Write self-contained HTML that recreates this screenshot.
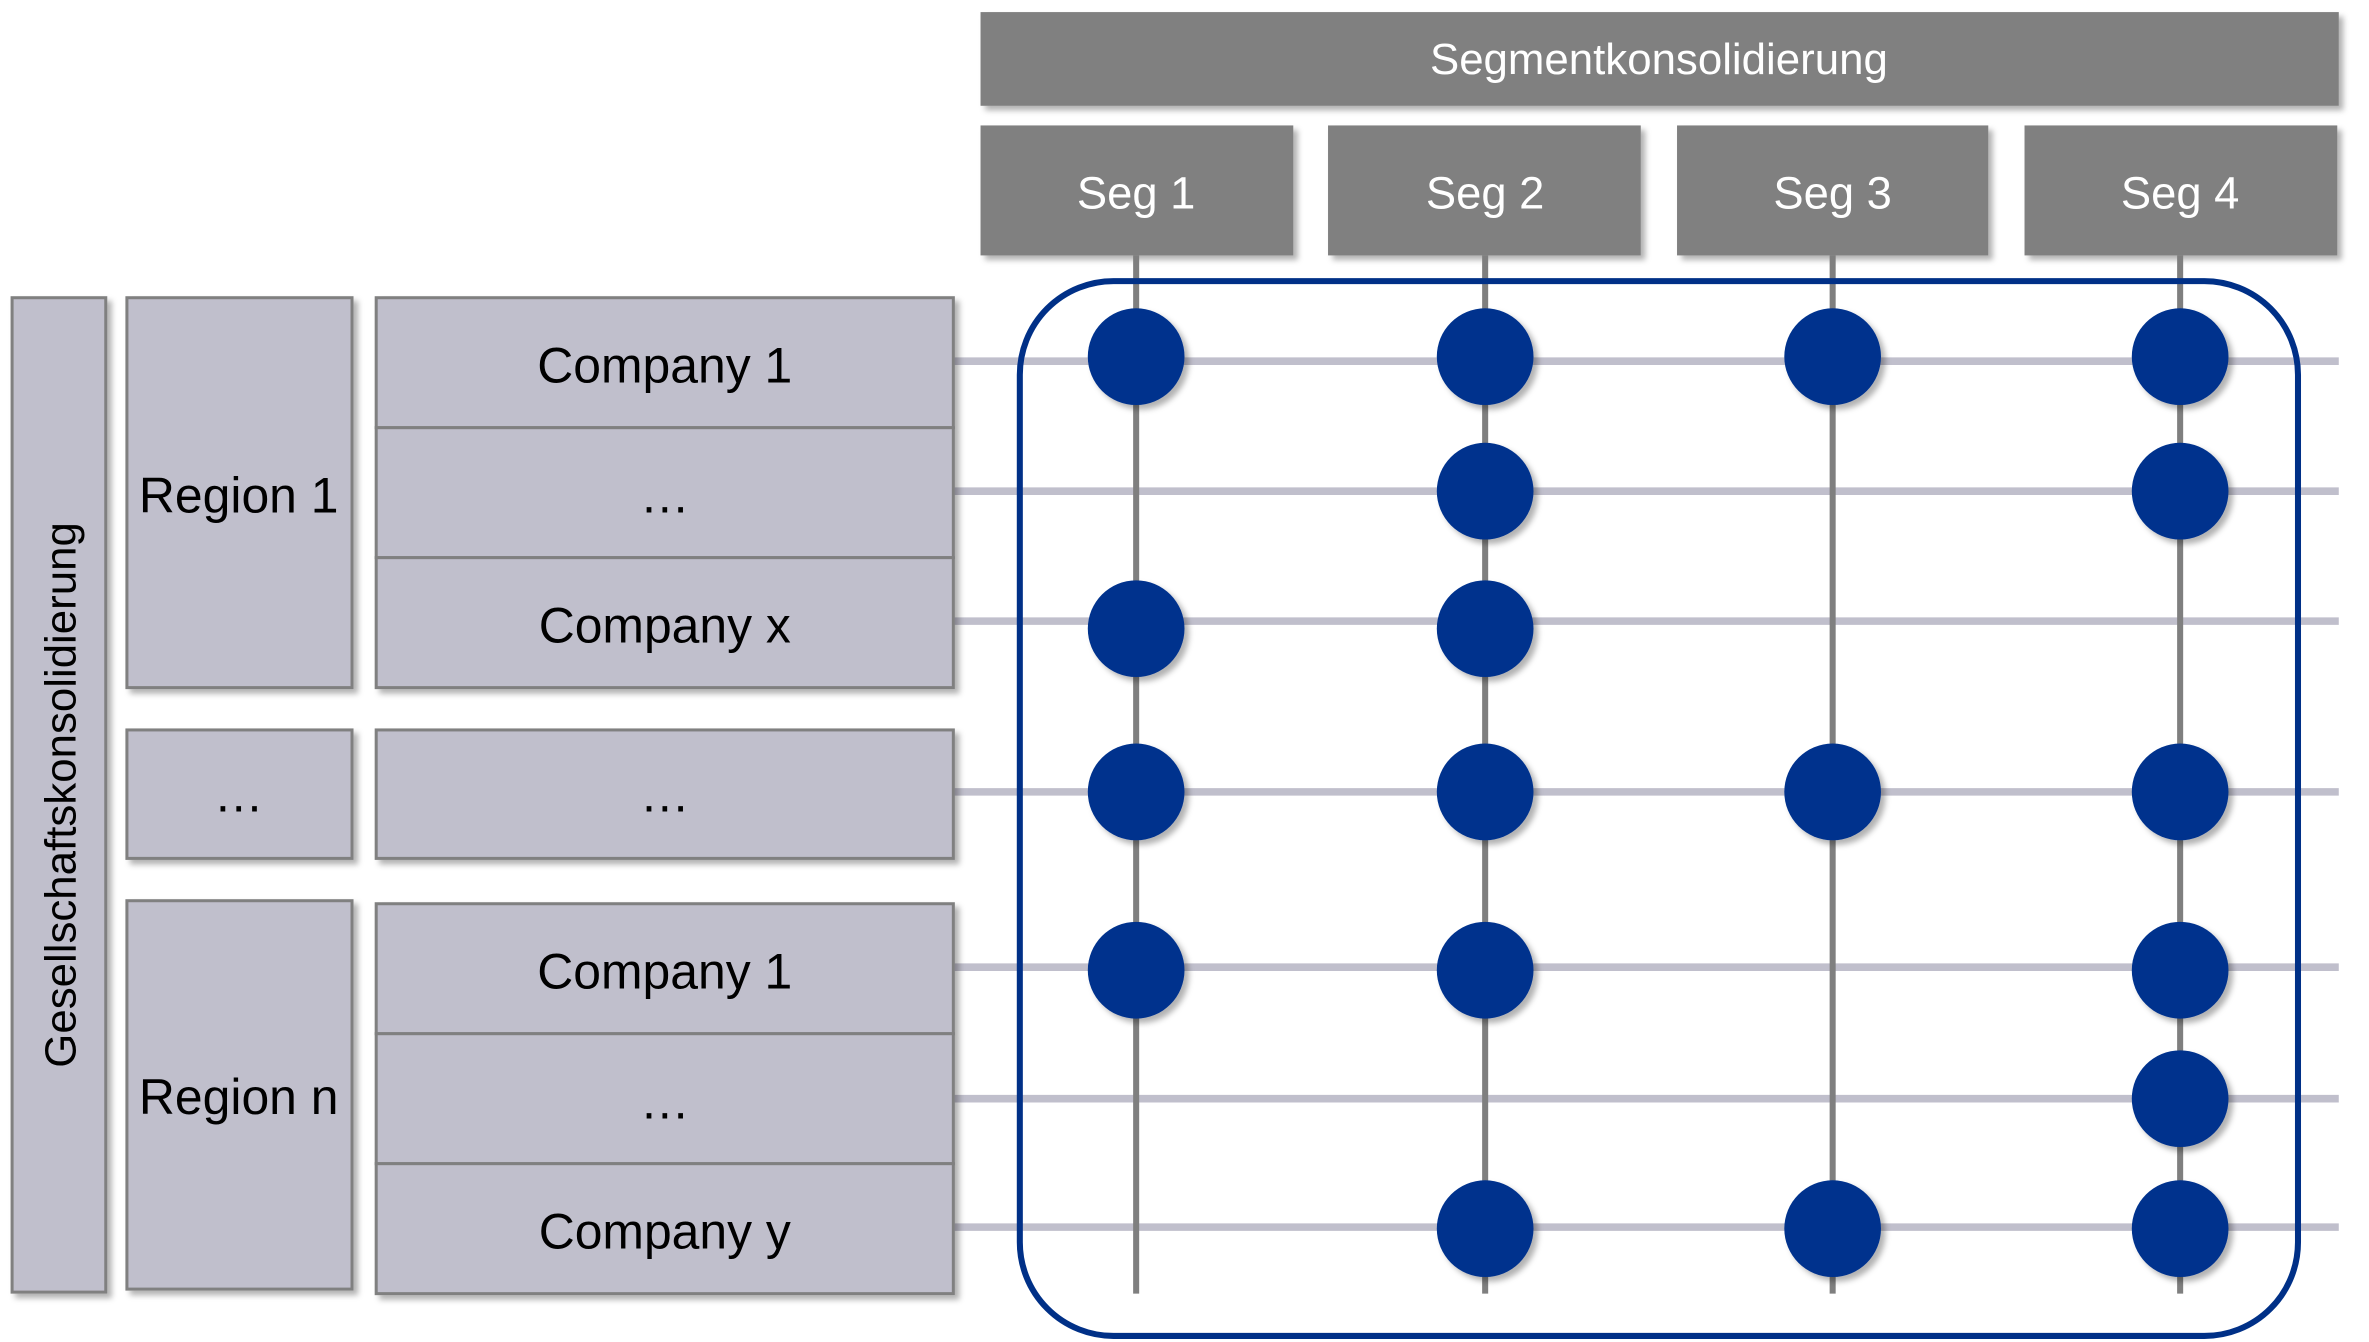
<!DOCTYPE html>
<html><head><meta charset="utf-8"><style>
html,body{margin:0;padding:0;background:#fff;}
svg{display:block;}
text{font-family:"Liberation Sans",sans-serif;}
</style></head><body>
<svg width="2369" height="1342" viewBox="0 0 1568 888" preserveAspectRatio="none" xmlns="http://www.w3.org/2000/svg">
<defs>
<filter id="sh" x="-20%" y="-20%" width="150%" height="150%">
<feDropShadow dx="3" dy="3" stdDeviation="2" flood-color="#000" flood-opacity="0.3"/>
</filter>
</defs>
<g filter="url(#sh)">
<rect x="649" y="8" width="899" height="62" fill="#808080"/>
<rect x="649" y="83" width="207" height="86" fill="#808080"/>
<rect x="879" y="83" width="207" height="86" fill="#808080"/>
<rect x="1110" y="83" width="206" height="86" fill="#808080"/>
<rect x="1340" y="83" width="207" height="86" fill="#808080"/>
</g>
<g fill="#fff" text-anchor="middle">
<text x="1098" y="49" font-size="29">Segmentkonsolidierung</text>
<text x="752" y="138" font-size="30">Seg 1</text>
<text x="983" y="138" font-size="30">Seg 2</text>
<text x="1213" y="138" font-size="30">Seg 3</text>
<text x="1443" y="138" font-size="30">Seg 4</text>
</g>
<g stroke="#c0bfcc" stroke-width="5">
<line x1="631" y1="239" x2="1548" y2="239"/>
<line x1="631" y1="325" x2="1548" y2="325"/>
<line x1="631" y1="411" x2="1548" y2="411"/>
<line x1="631" y1="524" x2="1548" y2="524"/>
<line x1="631" y1="640" x2="1548" y2="640"/>
<line x1="631" y1="727" x2="1548" y2="727"/>
<line x1="631" y1="812" x2="1548" y2="812"/>
</g>
<g stroke="#7f7f7f" stroke-width="4">
<line x1="752" y1="169" x2="752" y2="856"/>
<line x1="983" y1="169" x2="983" y2="856"/>
<line x1="1213" y1="169" x2="1213" y2="856"/>
<line x1="1443" y1="169" x2="1443" y2="856"/>
</g>
<rect x="675" y="186" width="846" height="698" rx="62" fill="none" stroke="#003087" stroke-width="4"/>
<g fill="#00338d" filter="url(#sh)">
<circle cx="752" cy="236" r="32"/><circle cx="983" cy="236" r="32"/><circle cx="1213" cy="236" r="32"/><circle cx="1443" cy="236" r="32"/>
<circle cx="983" cy="325" r="32"/><circle cx="1443" cy="325" r="32"/>
<circle cx="752" cy="416" r="32"/><circle cx="983" cy="416" r="32"/>
<circle cx="752" cy="524" r="32"/><circle cx="983" cy="524" r="32"/><circle cx="1213" cy="524" r="32"/><circle cx="1443" cy="524" r="32"/>
<circle cx="752" cy="642" r="32"/><circle cx="983" cy="642" r="32"/><circle cx="1443" cy="642" r="32"/>
<circle cx="1443" cy="727" r="32"/>
<circle cx="983" cy="813" r="32"/><circle cx="1213" cy="813" r="32"/><circle cx="1443" cy="813" r="32"/>
</g>
<g fill="#c0bfcc" stroke="#808080" stroke-width="2" filter="url(#sh)">
<rect x="8" y="197" width="62" height="658"/>
<rect x="84" y="197" width="149" height="258"/>
<rect x="84" y="483" width="149" height="85"/>
<rect x="84" y="596" width="149" height="257"/>
<rect x="249" y="197" width="382" height="86"/>
<rect x="249" y="283" width="382" height="86"/>
<rect x="249" y="369" width="382" height="86"/>
<rect x="249" y="483" width="382" height="85"/>
<rect x="249" y="598" width="382" height="86"/>
<rect x="249" y="684" width="382" height="86"/>
<rect x="249" y="770" width="382" height="86"/>
</g>
<g fill="#000" text-anchor="middle" font-size="33">
<text x="440" y="253">Company 1</text>
<text x="440" y="339">…</text>
<text x="440" y="425">Company x</text>
<text x="440" y="537">…</text>
<text x="440" y="654">Company 1</text>
<text x="440" y="740">…</text>
<text x="440" y="826">Company y</text>
<text x="158" y="339">Region 1</text>
<text x="158" y="537">…</text>
<text x="158" y="737">Region n</text>
<text transform="translate(50,526) rotate(-90)" font-size="29">Gesellschaftskonsolidierung</text>
</g>
</svg>
</body></html>
